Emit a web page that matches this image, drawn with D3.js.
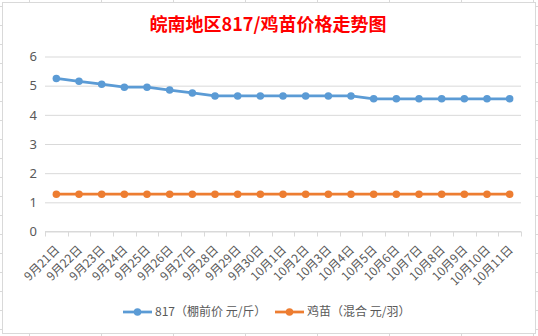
<!DOCTYPE html>
<html>
<head>
<meta charset="utf-8">
<script src="https://cdn.jsdelivr.net/npm/d3@7"></script>
<style>
  html, body { margin: 0; padding: 0; background: #fff; }
  svg { display: block; font-family: "Noto Sans CJK SC", "Noto Sans", sans-serif; }
</style>
</head>
<body>
<svg id="chart" width="538" height="336"></svg>
<script>
// Dates on the horizontal axis
const categories = [
  "9月21日", "9月22日", "9月23日", "9月24日", "9月25日", "9月26日", "9月27日",
  "9月28日", "9月29日", "9月30日", "10月1日", "10月2日", "10月3日", "10月4日",
  "10月5日", "10月6日", "10月7日", "10月8日", "10月9日", "10月10日", "10月11日"
];
// 817 broiler, shed-side price (元/斤)
const price817 = [
  5.25, 5.15, 5.05, 4.95, 4.95, 4.85, 4.75, 4.65, 4.65, 4.65, 4.65,
  4.65, 4.65, 4.65, 4.55, 4.55, 4.55, 4.55, 4.55, 4.55, 4.55
];
// Chick price, mixed (元/羽)
const priceChick = [
  1.28, 1.28, 1.28, 1.28, 1.28, 1.28, 1.28, 1.28, 1.28, 1.28, 1.28,
  1.28, 1.28, 1.28, 1.28, 1.28, 1.28, 1.28, 1.28, 1.28, 1.28
];
const yTicks = [0, 1, 2, 3, 4, 5, 6];
const seriesNames = ["817（棚前价 元/斤）", "鸡苗（混合 元/羽）"];
const titleText = "皖南地区817/鸡苗价格走势图";

const series = [
  { name: seriesNames[0], values: price817, color: "#5b9bd5" },
  { name: seriesNames[1], values: priceChick, color: "#ed7d31" }
];

const svg = d3.select("#chart");
const W = 538, H = 336;
const grid = "#d9d9d9";
const textGray = "#595959";

// Sheet cell lines peeking around the chart object
const sheet = svg.append("g").attr("stroke", grid).attr("stroke-width", 1);
d3.range(29.5, W, 72).forEach(x => {
  sheet.append("line").attr("x1", x).attr("x2", x).attr("y1", 0).attr("y2", 2);
  sheet.append("line").attr("x1", x).attr("x2", x).attr("y1", 334).attr("y2", H);
});
d3.range(6.5, H, 19).forEach(y => {
  sheet.append("line").attr("x1", 0).attr("x2", 2).attr("y1", y).attr("y2", y);
  sheet.append("line").attr("x1", 536).attr("x2", W).attr("y1", y).attr("y2", y);
});

// Chart object frame
svg.append("rect")
  .attr("x", 2.5).attr("y", 2.5).attr("width", 533).attr("height", 331)
  .attr("fill", "#fff").attr("stroke", grid).attr("stroke-width", 1);

const x = d3.scaleBand().domain(categories).range([45, 521]);
const y = d3.scaleLinear().domain([0, 6]).range([231.5, 56.5]);
const cx = d => x(d) + x.bandwidth() / 2;

// Title
svg.append("text")
  .attr("x", 268).attr("y", 31)
  .attr("text-anchor", "middle")
  .attr("font-size", 18).attr("font-weight", "bold")
  .attr("fill", "#ff0000")
  .text(titleText);

// Horizontal gridlines and value labels
const yAxis = d3.axisLeft(y).tickValues(yTicks).tickSize(-(521 - 45)).tickFormat(d3.format("d"));
const gy = svg.append("g").attr("transform", "translate(45,0)").call(yAxis);
gy.select(".domain").remove();
gy.selectAll(".tick line").attr("stroke", grid).attr("stroke-width", 1);
gy.selectAll(".tick text")
  .attr("x", -8).attr("fill", textGray)
  .attr("font-size", 13)
  .attr("font-family", "'Noto Sans', 'DejaVu Sans', sans-serif");

// Category axis: line, boundary ticks, rotated date labels
const gx = svg.append("g");
gx.append("line")
  .attr("x1", 45).attr("x2", 521).attr("y1", y(0)).attr("y2", y(0))
  .attr("stroke", grid).attr("stroke-width", 1);
gx.selectAll("line.tk")
  .data(categories.map(c => x(c)).concat([x.range()[1]]))
  .join("line").attr("class", "tk")
  .attr("x1", d => Math.round(d) + 0.5).attr("x2", d => Math.round(d) + 0.5)
  .attr("y1", y(0)).attr("y2", y(0) + 5)
  .attr("stroke", grid).attr("stroke-width", 1);
gx.selectAll("text")
  .data(categories)
  .join("text")
  .attr("transform", d => `translate(${cx(d) + 1},${y(0) + 16}) rotate(-45)`)
  .attr("text-anchor", "end")
  .attr("dy", "0.35em")
  .attr("font-size", 12)
  .attr("fill", textGray)
  .text(d => d);

// Series lines and markers
const line = d3.line().x((v, i) => cx(categories[i])).y(v => y(v));
series.forEach(s => {
  svg.append("path")
    .attr("d", line(s.values))
    .attr("fill", "none")
    .attr("stroke", s.color)
    .attr("stroke-width", 2.75)
    .attr("stroke-linejoin", "round");
  svg.append("g").selectAll("circle")
    .data(s.values)
    .join("circle")
    .attr("cx", (v, i) => cx(categories[i]))
    .attr("cy", v => y(v))
    .attr("r", 3.75)
    .attr("fill", s.color);
});

// Legend
const legendX = [123, 275];
const ly = 312;
series.forEach((s, i) => {
  const g = svg.append("g").attr("transform", `translate(${legendX[i]},${ly})`);
  g.append("line").attr("x1", 0).attr("x2", 29).attr("y1", 0).attr("y2", 0)
    .attr("stroke", s.color).attr("stroke-width", 2.75);
  g.append("circle").attr("cx", 14.5).attr("cy", 0).attr("r", 3.75).attr("fill", s.color);
  g.append("text").attr("x", 32).attr("y", 0).attr("dy", "0.35em")
    .attr("font-size", 12).attr("fill", textGray)
    .text(s.name);
});
</script>
</body>
</html>
